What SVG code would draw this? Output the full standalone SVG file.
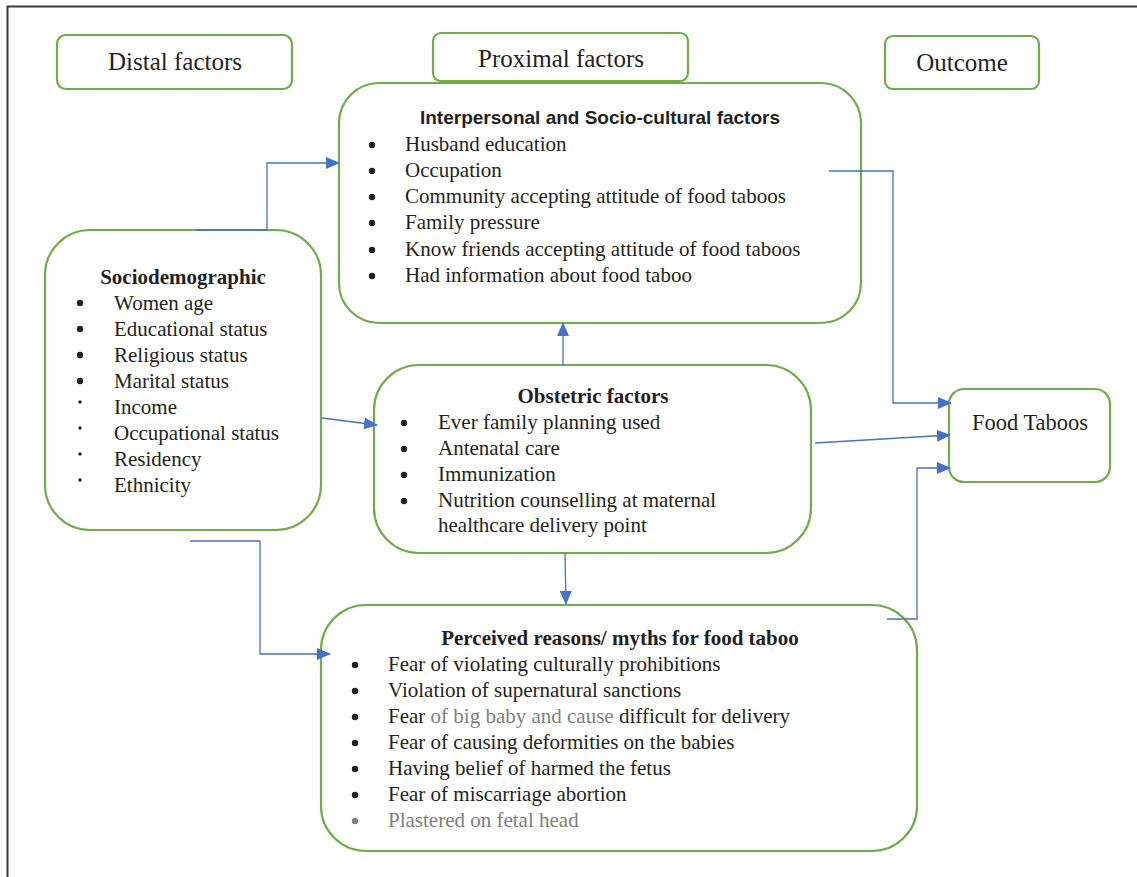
<svg xmlns="http://www.w3.org/2000/svg" width="1137" height="877" viewBox="0 0 1137 877">
<defs>
<marker id="arr" viewBox="0 0 14 12" refX="13" refY="6" markerWidth="14" markerHeight="12" markerUnits="userSpaceOnUse" orient="auto">
<path d="M0,0 L14,6 L0,12 z" fill="#4472C4"/>
</marker>
<style>
.box{fill:#fff;stroke:#70AD47;stroke-width:2.2}
.hd{font-family:"Liberation Serif",serif;font-size:25px;fill:#231f20}
.t{font-family:"Liberation Serif",serif;font-size:21px;fill:#231f20}
.tb{font-family:"Liberation Serif",serif;font-size:21px;font-weight:bold;fill:#231f20}
.ts{font-family:"Liberation Sans",Arial,sans-serif;font-size:19px;font-weight:bold;fill:#231f20}
.g{fill:#808080}
.b{fill:#231f20}
.c{fill:none;stroke:#4472C4;stroke-width:1.3}
</style>
</defs>
<rect width="1137" height="877" fill="#fff"/>
<path d="M7.5,877 V6.5 H1137" fill="none" stroke="#3a3a3a" stroke-width="2"/>

<g id="distal">
<rect class="box" x="57" y="35" width="235" height="54" rx="9"/>
<text class="hd" x="175" y="70" text-anchor="middle">Distal factors</text>
</g>
<g id="proximal">
<rect class="box" x="433" y="33" width="255" height="48" rx="8"/>
<text class="hd" x="561" y="67" text-anchor="middle">Proximal factors</text>
</g>
<g id="outcome">
<rect class="box" x="885" y="36" width="154" height="53" rx="8"/>
<text class="hd" x="962" y="71" text-anchor="middle">Outcome</text>
</g>

<g id="interpersonal">
<rect class="box" x="339" y="83" width="522" height="240" rx="40"/>
<text class="ts" x="600" y="124" text-anchor="middle">Interpersonal and Socio-cultural factors</text>
<g class="b"><circle cx="372" cy="145" r="3.2"/><circle cx="372" cy="171" r="3.2"/><circle cx="372" cy="197" r="3.2"/><circle cx="372" cy="223" r="3.2"/><circle cx="372" cy="250" r="3.2"/><circle cx="372" cy="276" r="3.2"/></g>
<text class="t" x="405" y="151">Husband education</text>
<text class="t" x="405" y="177">Occupation</text>
<text class="t" x="405" y="203">Community accepting attitude of food taboos</text>
<text class="t" x="405" y="229">Family pressure</text>
<text class="t" x="405" y="256">Know friends accepting attitude of food taboos</text>
<text class="t" x="405" y="282">Had information about food taboo</text>
</g>

<g id="sociodemographic">
<rect class="box" x="45" y="230" width="276" height="300" rx="45"/>
<text class="tb" x="183" y="284" text-anchor="middle">Sociodemographic</text>
<g class="b"><circle cx="80" cy="303" r="3.2"/><circle cx="80" cy="329" r="3.2"/><circle cx="80" cy="355" r="3.2"/><circle cx="80" cy="381" r="3.2"/><circle cx="80" cy="402" r="1.7"/><circle cx="80" cy="428" r="1.7"/><circle cx="80" cy="454" r="1.7"/><circle cx="80" cy="480" r="1.7"/></g>
<text class="t" x="114" y="310">Women age</text>
<text class="t" x="114" y="336">Educational status</text>
<text class="t" x="114" y="362">Religious status</text>
<text class="t" x="114" y="388">Marital status</text>
<text class="t" x="114" y="414">Income</text>
<text class="t" x="114" y="440">Occupational status</text>
<text class="t" x="114" y="466">Residency</text>
<text class="t" x="114" y="492">Ethnicity</text>
</g>

<g id="obstetric">
<rect class="box" x="374" y="365" width="437" height="188" rx="45"/>
<text class="tb" x="593" y="403" text-anchor="middle">Obstetric factors</text>
<g class="b"><circle cx="404" cy="423" r="3.2"/><circle cx="404" cy="449" r="3.2"/><circle cx="404" cy="475" r="3.2"/><circle cx="404" cy="501" r="3.2"/></g>
<text class="t" x="438" y="429">Ever family planning used</text>
<text class="t" x="438" y="455">Antenatal care</text>
<text class="t" x="438" y="481">Immunization</text>
<text class="t" x="438" y="507">Nutrition counselling at maternal</text>
<text class="t" x="438" y="532">healthcare delivery point</text>
</g>

<g id="perceived">
<rect class="box" x="321" y="605" width="596" height="246" rx="45"/>
<text class="tb" x="620" y="645" text-anchor="middle">Perceived reasons/ myths for food taboo</text>
<g class="b"><circle cx="355" cy="665" r="3.2"/><circle cx="355" cy="691" r="3.2"/><circle cx="355" cy="717" r="3.2"/><circle cx="355" cy="743" r="3.2"/><circle cx="355" cy="769" r="3.2"/><circle cx="355" cy="795" r="3.2"/><circle cx="355" cy="821" r="3.2" fill="#808080"/></g>
<text class="t" x="388" y="671">Fear of violating culturally prohibitions</text>
<text class="t" x="388" y="697">Violation of supernatural sanctions</text>
<text class="t" x="388" y="723">Fear <tspan class="g">of big baby and cause</tspan> difficult for delivery</text>
<text class="t" x="388" y="749">Fear of causing deformities on the babies</text>
<text class="t" x="388" y="775">Having belief of harmed the fetus</text>
<text class="t" x="388" y="801">Fear of miscarriage abortion</text>
<text class="t g" x="388" y="827">Plastered on fetal head</text>
</g>

<g id="food-taboos">
<rect class="box" x="949" y="389" width="161" height="93" rx="15"/>
<text class="t" x="1030" y="430" text-anchor="middle" style="font-size:22.5px">Food Taboos</text>
</g>

<g id="connectors">
<path class="c" d="M196,230 H267 V163 H339" marker-end="url(#arr)"/>
<path class="c" d="M829,171 H893 V403 H951" marker-end="url(#arr)"/>
<path class="c" d="M815,443 L950,435" marker-end="url(#arr)"/>
<path class="c" d="M887,619 H917 V468 H950" marker-end="url(#arr)"/>
<path class="c" d="M563,365 V323" marker-end="url(#arr)"/>
<path class="c" d="M565,553 L566,604" marker-end="url(#arr)"/>
<path class="c" d="M322,418 L377,425" marker-end="url(#arr)"/>
<path class="c" d="M190,541 H260 V654 H330" marker-end="url(#arr)"/>
</g>
</svg>
